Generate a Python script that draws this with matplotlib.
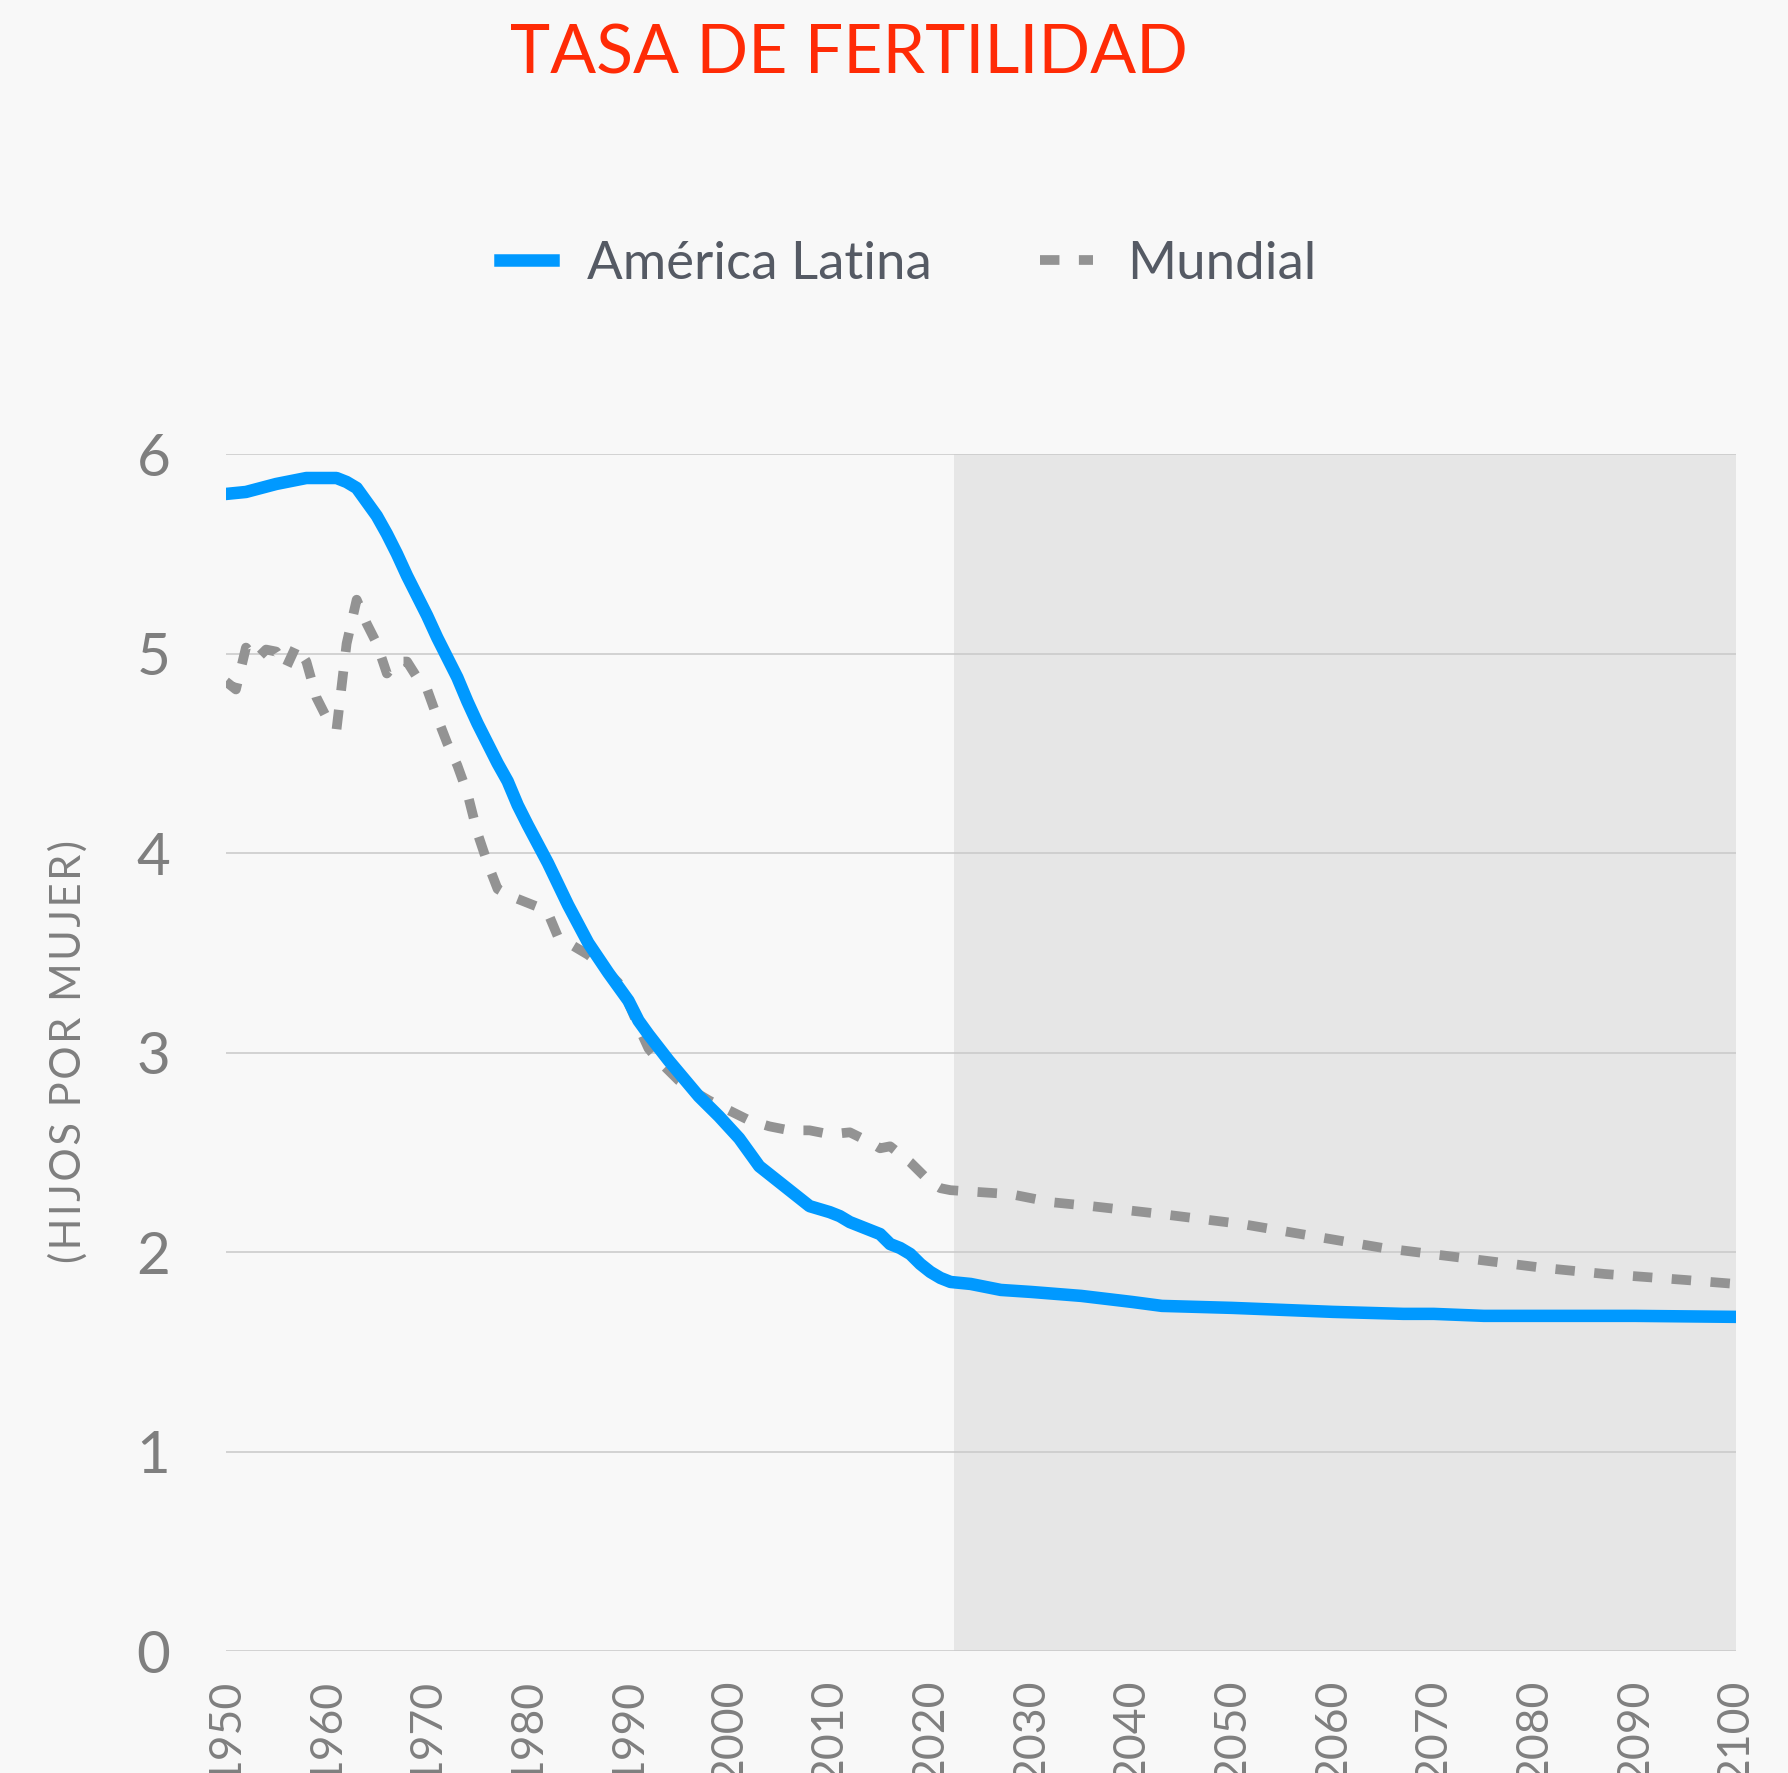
import matplotlib
matplotlib.use('Agg')
import matplotlib.pyplot as plt

plt.rcParams['font.family'] = ['Lato', 'DejaVu Sans']

# --- data ---
years_al = [1950, 1952, 1955, 1957, 1958, 1961, 1962, 1963, 1964, 1965, 1966, 1967, 1968,
            1970, 1971, 1973, 1974, 1975, 1977, 1978, 1979, 1980, 1982, 1984, 1986, 1988,
            1990, 1991, 1992, 1994, 1996, 1997, 1999, 2001, 2003, 2005, 2007, 2008, 2010,
            2011, 2012, 2013, 2015, 2016, 2017, 2018, 2019, 2020, 2021, 2022, 2024, 2026,
            2027, 2030, 2035, 2040, 2043, 2050, 2055, 2060, 2067, 2070, 2075, 2082, 2090, 2100]
fert_al = [5.80, 5.81, 5.85, 5.87, 5.88, 5.88, 5.86, 5.83, 5.76, 5.69, 5.60, 5.50, 5.39,
           5.19, 5.08, 4.88, 4.76, 4.65, 4.45, 4.36, 4.24, 4.14, 3.95, 3.74, 3.55, 3.40,
           3.26, 3.16, 3.09, 2.96, 2.84, 2.78, 2.68, 2.57, 2.43, 2.35, 2.27, 2.23, 2.20,
           2.18, 2.15, 2.13, 2.09, 2.04, 2.02, 1.99, 1.94, 1.90, 1.87, 1.85, 1.84, 1.82,
           1.81, 1.80, 1.78, 1.75, 1.73, 1.72, 1.71, 1.70, 1.69, 1.69, 1.68, 1.68, 1.68, 1.675]

years_w = [1950, 1951, 1952, 1953, 1954, 1955, 1956, 1957, 1958, 1959, 1960, 1961, 1962,
           1963, 1964, 1965, 1966, 1967, 1968, 1969, 1970, 1971, 1972, 1973, 1974, 1975,
           1976, 1977, 1978, 1979, 1980, 1981, 1982, 1983, 1984, 1985, 1986, 1987, 1988,
           1989, 1990, 1991, 1992, 1993, 1995, 1997, 1998, 2000, 2002, 2004, 2006, 2008,
           2010, 2012, 2014, 2015, 2016, 2017, 2018, 2019, 2020, 2021, 2022, 2025, 2028,
           2032, 2036, 2043, 2051, 2058, 2065, 2073, 2081, 2087, 2095, 2100]
fert_w = [4.86, 4.82, 5.03, 4.97, 5.02, 5.01, 4.93, 5.04, 4.96, 4.78, 4.68, 4.62, 5.05,
          5.27, 5.15, 5.05, 4.90, 4.96, 4.96, 4.88, 4.82, 4.68, 4.55, 4.44, 4.30, 4.10,
          3.95, 3.82, 3.79, 3.77, 3.75, 3.73, 3.70, 3.58, 3.55, 3.52, 3.49, 3.45, 3.40,
          3.35, 3.25, 3.13, 3.02, 2.96, 2.86, 2.79, 2.76, 2.71, 2.66, 2.63, 2.61, 2.61,
          2.59, 2.60, 2.55, 2.52, 2.53, 2.49, 2.45, 2.40, 2.35, 2.32, 2.31, 2.30, 2.29,
          2.25, 2.23, 2.19, 2.14, 2.08, 2.02, 1.97, 1.92, 1.89, 1.86, 1.84]

y_ticks = [0, 1, 2, 3, 4, 5, 6]
x_ticks = list(range(1950, 2101, 10))
projection_start = 2022.3

BG = '#f8f8f8'
BLUE = '#0099ff'
GREY = '#939393'
TICK = '#7f7f7f'

fig = plt.figure(figsize=(17.88, 17.73), dpi=100, facecolor=BG)
ax = fig.add_axes([0.1263, 0.0688, 0.8444, 0.6751], facecolor=BG)

# shaded projection area
ax.axvspan(projection_start, 2100, color='#e6e6e6', zorder=0, lw=0)

for v in y_ticks:
    ax.axhline(v, color='#c8c8c8', lw=1.1, zorder=1)

ax.plot(years_al, fert_al, color=BLUE, lw=9, solid_joinstyle='round',
        label='América Latina', zorder=3)
ax.plot(years_w, fert_w, color=GREY, lw=7, dashes=(2.0, 2.0),
        label='Mundial', zorder=2)

ax.set_xlim(1950, 2100)
ax.set_ylim(0, 6)
ax.set_yticks(y_ticks)
ax.set_xticks(x_ticks)
ax.set_xticklabels([str(x) for x in x_ticks], rotation=90, va='top')
ax.tick_params(axis='y', length=0, pad=40, labelsize=42, labelcolor=TICK)
ax.tick_params(axis='x', length=0, pad=20, labelsize=32, labelcolor=TICK)
for s in ax.spines.values():
    s.set_visible(False)

# y label with a little extra letter spacing
ylabel = '\u200a'.join('(HIJOS POR MUJER)')
fig.text(0.038, 0.407, ylabel, rotation=90, ha='center', va='center',
         fontsize=30, color=TICK)

fig.text(0.475, 0.9695, 'TASA DE FERTILIDAD', ha='center', va='center',
         fontsize=49, color='#ff2b06')

fig.legend(loc='center', bbox_to_anchor=(0.508, 0.851), ncol=2, frameon=False,
           fontsize=38, handlelength=1.0, handletextpad=0.65, columnspacing=2.05,
           labelcolor='#555a64')

fig.savefig('out.png', dpi=100, facecolor=BG)
